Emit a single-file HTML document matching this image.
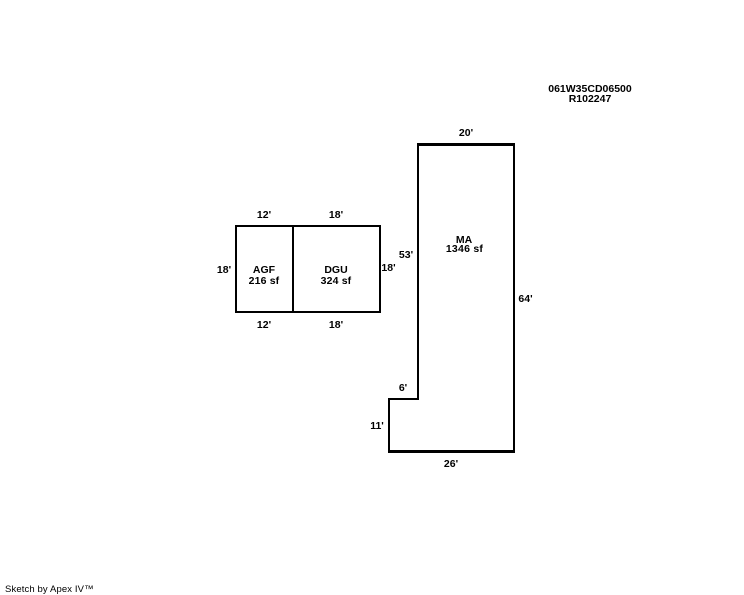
<!DOCTYPE html>
<html>
<head>
<meta charset="utf-8">
<style>
html,body{margin:0;padding:0;background:#fff;}
svg{display:block;}
text{font-family:"Liberation Sans",Arial,sans-serif;font-size:10.5px;font-weight:bold;fill:#000;text-anchor:middle;}
</style>
</head>
<body>
<svg width="744" height="595" viewBox="0 0 744 595" xmlns="http://www.w3.org/2000/svg">
<rect width="744" height="595" fill="#fff"/>
<g fill="none" stroke="#000" stroke-width="2" shape-rendering="crispEdges">
<rect x="236" y="226" width="144" height="86"/>
<line x1="293" y1="226" x2="293" y2="312"/>
</g>
<g fill="#000" shape-rendering="crispEdges">
<rect x="417" y="143" width="98" height="3"/>
<rect x="417" y="143" width="2" height="257"/>
<rect x="513" y="143" width="2" height="310"/>
<rect x="388" y="398" width="31" height="2"/>
<rect x="388" y="398" width="2" height="55"/>
<rect x="388" y="450" width="127" height="3"/>
</g>
<text x="590" y="92">061W35CD06500</text>
<text x="590" y="102">R102247</text>
<text x="466" y="136">20'</text>
<text x="264" y="218">12'</text>
<text x="336" y="218">18'</text>
<text x="224" y="273">18'</text>
<text x="388.500" y="271">18'</text>
<text x="406" y="258">53'</text>
<text x="525.500" y="302">64'</text>
<text x="264" y="328">12'</text>
<text x="336" y="328">18'</text>
<text x="403" y="391">6'</text>
<text x="377" y="429">11'</text>
<text x="451" y="467">26'</text>
<text x="264" y="273">AGF</text>
<text x="264" y="284" style="letter-spacing:.15px">216 sf</text>
<text x="336" y="273">DGU</text>
<text x="336" y="284" style="letter-spacing:.15px">324 sf</text>
<text x="464" y="243">MA</text>
<text x="464.500" y="252" style="letter-spacing:.25px">1346 sf</text>
<text x="5" y="592" style="font-size:9.500px;font-weight:normal;text-anchor:start;letter-spacing:.12px;">Sketch by Apex IV™</text>
</svg>
</body>
</html>
